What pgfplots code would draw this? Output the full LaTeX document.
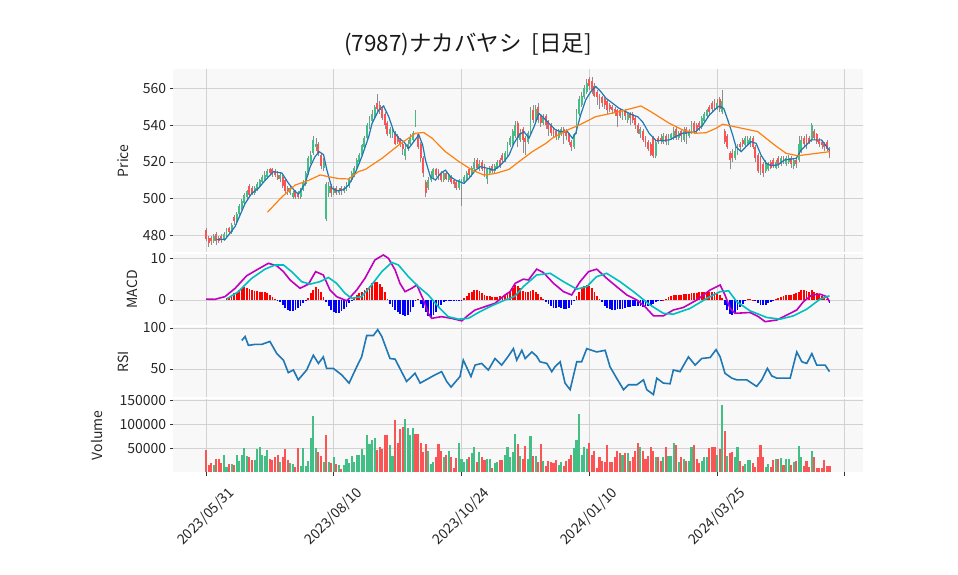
\documentclass[border=0pt]{standalone}
\usepackage{fontspec}
\setmainfont{Noto Sans CJK JP}
\usepackage{pgfplots}
\usepackage{pgfplotstable}
\pgfplotsset{compat=1.18}

\definecolor{upc}{RGB}{67,190,133}
\definecolor{dnc}{RGB}{250,85,85}
\definecolor{wick}{RGB}{140,140,140}
\definecolor{bgc}{RGB}{248,248,248}
\definecolor{gridc}{RGB}{210,210,210}
\definecolor{ma5c}{RGB}{31,119,180}
\definecolor{ma25c}{RGB}{255,127,14}
\definecolor{macdc}{RGB}{191,0,191}
\definecolor{sigc}{RGB}{0,191,191}

% daily: index, open, high, low, close, volume, volume up flag, macd histogram
\pgfplotstableread{
i o h l c v d m
0 483 484 477 478 46500 0 0
1 479 480 474 476 15000 0 0
2 479 480 475 477 19000 0 0
3 477 481 476 480 15000 1 0
4 481 482 475 477 28000 0 0
5 479 480 476 477 28000 0 0
6 480 481 476 478 19000 0 0
7 478 482 477 481 36000 1 0
8 480 484 479 483 12000 1 0.5
9 484 485 481 482 17000 0 0.8
10 482 487 481 486 17000 1 1.2
11 490 491 486 488 15000 0 1.6
12 488 493 487 492 36000 1 2.0
13 492 497 491 496 24000 1 2.4
14 495 500 494 499 36000 1 2.8
15 498 503 497 502 50000 1 3.0
16 501 505 500 504 34000 1 2.9
17 507 508 501 502 32000 0 2.6
18 506 507 502 503 26000 0 2.4
19 503 507 502 506 26000 1 2.2
20 505 509 504 508 49000 1 2.1
21 507 511 506 510 52000 1 2.0
22 509 513 508 512 37000 1 2.0
23 511 515 510 513 34000 1 1.9
24 512 516 511 515 46000 1 1.7
25 516 517 513 514 28000 0 1.3
26 516 517 512 514 26000 0 0.8
27 515 516 512 513 31000 0 0.2
28 513 515 510 511 36000 0 -0.3
29 511 514 509 513 21000 1 -0.6
30 512 513 506 507 31000 0 -1.2
31 510 511 503 504 49000 0 -1.9
32 506 507 502 504 26000 0 -2.5
33 503 507 502 506 19000 1 -2.6
34 501 504 500 503 17000 1 -2.6
35 504 505 500 501 12000 0 -2.5
36 503 504 500 501 50000 0 -2.0
37 501 506 500 505 13000 1 -1.5
38 505 510 504 509 50000 1 -0.8
39 508 515 507 514 13000 1 -0.2
40 514 523 513 522 24000 1 0.4
41 520 526 519 524 71000 1 1.6
42 525 534 524 532 117000 1 2.5
43 528 533 526 530 50000 1 3.0
44 530 531 523 525 42000 0 2.6
45 524 525 516 518 33000 0 1.8
46 517 522 515 520 21000 1 0.8
47 489 509 488 508 78000 0 -0.5
48 503 509 501 507 21000 1 -1.5
49 507 508 501 503 19000 0 -2.3
50 503 507 502 506 32000 1 -3.0
51 506 507 502 503 17000 0 -3.2
52 503 506 502 505 15000 1 -3.1
53 506 507 502 504 7000 0 -2.7
54 504 507 503 506 15000 1 -2.2
55 505 509 504 508 28000 1 -1.6
56 507 512 506 511 19000 1 -0.8
57 510 515 509 514 34000 1 -0.1
58 513 518 512 517 21000 1 0.6
59 517 522 516 521 36000 1 1.3
60 520 525 519 524 36000 1 1.6
61 524 530 523 529 49000 1 2.0
62 528 534 527 533 36000 1 2.4
63 533 541 532 540 78000 1 2.9
64 539 545 538 543 58000 1 3.4
65 542 548 541 546 67000 1 4.0
66 545 551 544 550 71000 1 4.4
67 552 557 547 549 46000 0 4.2
68 551 553 546 548 52000 0 3.8
69 549 550 543 544 49000 0 3.0
70 546 547 538 540 78000 0 1.8
71 541 542 534 535 78000 0 0.3
72 535 539 533 538 57000 1 -0.9
73 534 539 533 537 34000 1 -1.7
74 536 537 529 530 109000 0 -2.4
75 534 535 530 531 60000 0 -3.0
76 532 533 528 529 90000 0 -3.4
77 530 531 524 527 95000 0 -3.7
78 523 529 521 527 111000 1 -3.8
79 527 532 526 530 92000 1 -3.5
80 530 535 529 533 78000 1 -2.8
81 532 537 531 536 92000 1 -1.8
82 540 548 539 547 79000 0 -0.3
83 535 536 527 528 79000 0 0.2
84 530 531 520 522 60000 0 -1.0
85 522 523 512 514 42000 0 -2.0
86 509 510 501 503 58000 0 -3.0
87 506 512 505 510 44000 1 -3.8
88 510 515 509 513 17000 1 -4.0
89 512 517 511 516 22000 1 -3.6
90 516 517 512 513 32000 0 -2.8
91 515 516 510 512 58000 0 -2.0
92 514 515 509 510 44000 0 -1.3
93 510 515 509 514 32000 1 -0.6
94 514 515 510 511 37000 0 -0.3
95 510 514 509 513 44000 1 -0.2
96 512 513 508 509 32000 0 -0.3
97 510 511 506 508 8000 0 -0.2
98 509 510 505 506 29000 0 -0.3
99 506 511 505 510 60000 1 -0.2
100 507 511 496 510 28000 1 -0.2
101 509 513 508 512 22000 1 0.4
102 511 515 510 514 28000 1 1.0
103 516 517 512 513 32000 0 1.6
104 513 518 512 517 40000 1 2.0
105 516 522 515 520 52000 1 2.3
106 521 522 516 517 21000 0 2.4
107 516 521 515 519 42000 1 2.2
108 520 521 515 516 31000 0 1.7
109 518 519 512 513 26000 0 1.3
110 511 517 508 516 28000 1 1.0
111 514 518 513 517 28000 1 0.9
112 518 519 514 515 10000 0 0.8
113 515 519 514 518 19000 1 0.8
114 517 521 516 520 21000 1 0.8
115 521 522 517 518 26000 0 0.9
116 524 525 520 521 26000 0 1.0
117 521 526 520 525 36000 1 1.1
118 524 531 523 530 52000 1 1.4
119 529 534 528 533 31000 1 2.0
120 530 538 529 537 42000 1 2.8
121 534 542 533 540 80000 1 3.6
122 541 542 528 533 59000 0 3.3
123 532 538 531 536 34000 1 2.8
124 538 539 525 532 28000 0 2.2
125 533 534 524 531 55000 0 2.0
126 531 537 530 536 28000 1 2.0
127 536 550 535 548 76000 1 2.2
128 548 551 541 543 33000 0 2.3
129 543 551 542 549 34000 1 2.0
130 550 552 541 543 21000 0 1.5
131 545 546 539 541 59000 0 0.8
132 541 546 540 544 24000 1 0.2
133 545 546 538 540 13000 0 -0.4
134 542 543 534 538 24000 0 -1.0
135 540 541 534 536 21000 0 -1.5
136 538 539 533 535 19000 0 -1.9
137 537 538 532 534 25000 0 -2.0
138 533 538 532 537 15000 1 -1.8
139 535 539 534 538 21000 1 -1.9
140 538 539 530 536 13000 0 -2.1
141 537 538 532 534 24000 0 -2.1
142 535 536 529 531 28000 0 -1.9
143 531 532 526 528 37000 0 -1.2
144 528 536 527 535 50000 1 -0.2
145 536 549 535 547 67000 1 1.0
146 546 556 545 554 121000 1 2.0
147 551 558 550 556 36000 1 2.8
148 555 562 554 560 52000 1 3.3
149 558 565 557 563 49000 1 3.6
150 565 566 559 561 62000 0 3.4
151 564 566 557 559 37000 0 2.8
152 561 563 555 556 44000 0 2.0
153 558 559 551 555 10000 0 1.0
154 556 557 549 553 31000 0 0.2
155 555 556 550 552 24000 0 -0.6
156 554 555 549 551 21000 0 -1.4
157 553 554 546 548 57000 0 -1.9
158 551 552 547 549 21000 0 -2.2
159 550 551 546 548 21000 0 -2.3
160 549 550 545 547 31000 0 -2.3
161 548 549 539 545 44000 0 -2.2
162 548 549 544 545 40000 0 -2.2
163 544 548 543 547 37000 1 -2.1
164 548 549 543 545 40000 0 -2.0
165 543 547 541 546 40000 1 -1.8
166 546 547 540 544 24000 0 -1.6
167 546 547 541 543 32000 0 -1.5
168 544 545 538 540 44000 0 -1.4
169 540 541 535 536 62000 0 -1.5
170 535 539 533 538 52000 1 -1.5
171 537 538 531 532 44000 0 -1.6
172 533 534 528 530 28000 0 -1.5
173 531 532 526 527 34000 0 -1.4
174 530 531 523 524 52000 0 -1.2
175 533 534 522 523 44000 0 -0.9
176 523 532 522 531 31000 1 -0.6
177 533 534 530 531 31000 0 -0.3
178 533 535 530 532 24000 0 -0.2
179 531 536 530 534 31000 1 0.1
180 534 535 529 531 52000 0 0.3
181 530 535 529 533 34000 1 0.6
182 533 536 532 535 34000 1 0.9
183 533 539 532 537 60000 1 1.1
184 538 539 532 533 57000 0 1.2
185 533 537 532 536 21000 1 1.3
186 537 538 531 534 31000 0 1.3
187 532 539 531 537 28000 1 1.4
188 538 539 530 535 24000 0 1.4
189 534 538 533 537 24000 1 1.5
190 536 542 535 540 52000 1 1.6
191 541 542 535 537 57000 0 1.6
192 540 541 536 538 28000 0 1.7
193 541 542 537 539 19000 0 1.8
194 539 545 538 544 24000 1 1.9
195 542 547 541 546 32000 1 2.0
196 545 549 544 548 32000 1 2.0
197 550 551 545 547 50000 0 2.0
198 552 553 547 549 52000 0 2.0
199 553 554 548 550 52000 0 1.8
200 549 554 548 552 37000 1 1.6
201 554 555 547 549 49000 0 1.2
202 547 559 546 553 140000 1 0.4
203 537 538 530 531 86000 0 -1.2
204 534 535 527 528 34000 1 -2.4
205 525 526 516 521 40000 0 -3.4
206 525 527 520 522 42000 0 -3.6
207 522 528 521 526 32000 1 -3.2
208 525 530 524 529 52000 1 -2.4
209 530 531 526 528 24000 0 -1.6
210 532 533 528 530 13000 0 -0.9
211 529 534 528 533 17000 1 -0.3
212 530 534 529 532 25000 1 0.2
213 530 534 528 533 25000 1 0.3
214 533 534 527 528 19000 0 0.1
215 528 529 520 522 12000 0 -0.3
216 524 525 514 515 32000 0 -0.8
217 522 523 513 516 57000 0 -1.2
218 519 520 512 514 31000 0 -1.3
219 515 521 514 520 12000 1 -1.1
220 516 520 515 519 17000 1 -0.7
221 520 521 516 517 12000 0 -0.4
222 521 522 517 518 25000 0 -0.1
223 517 521 516 520 27000 1 0.2
224 522 523 517 519 27000 0 0.5
225 519 523 518 522 29000 1 0.8
226 522 523 519 520 15000 0 1.0
227 519 523 518 522 27000 1 1.1
228 520 524 519 522 27000 1 1.2
229 522 523 517 519 15000 0 1.3
230 518 522 516 521 21000 1 1.4
231 521 522 517 519 24000 0 1.6
232 521 534 520 530 55000 1 2.0
233 526 534 525 532 31000 1 2.3
234 533 534 528 530 13000 0 2.3
235 534 535 527 530 24000 0 2.2
236 533 534 530 531 12000 0 2.0
237 532 541 531 540 44000 1 2.4
238 537 538 532 533 31000 0 2.0
239 535 536 530 531 8000 0 1.6
240 532 533 528 530 8000 0 1.3
241 531 532 527 529 8000 0 0.9
242 530 531 526 528 26000 0 0.6
243 531 532 526 527 13000 0 0.3
244 527 528 522 523 13000 0 -0.8
}\ohlc

\pgfplotstableread{
x y
4.2 478
7.5 478
11.4 485
15.3 497.5
17.9 503
20.5 505.7
23.1 510
26.4 514.8
29.7 514
32.3 508.4
34.9 504
36.2 502.6
38.8 508.4
40.8 517.5
42.7 523
44.3 525.6
46 524
47.3 515.7
49.3 505.7
51.2 504.4
53.9 505
55.8 507.5
58.4 514
61 523
63.7 533.8
65 541
67.6 548.2
69.5 550.4
71.5 544.6
73.5 536.5
75.4 532.9
77.4 531
79.3 527.4
81.3 531
83.3 534.7
84.8 529.2
85.9 521
87.8 512
89.8 510.2
91.8 513.8
93.7 515.6
95.7 512
97.6 510.2
100.9 508.4
102.9 511.1
105.5 515.6
107.4 517.5
110.1 516.6
112.7 515.6
114.6 517.5
116.6 520.2
118.6 523.8
120.5 530.1
122.5 534.7
124.4 536.5
126.4 532.9
128.4 539.2
130.3 546.4
132.3 543.7
134.2 541
136.8 537.4
138.8 536.5
141.4 536.5
143.4 532.9
144.7 535.6
146.6 545.5
148.6 553.7
150.6 558.2
152.5 561
154.5 558.2
156.5 554.6
159.1 551.9
161.7 549.1
164.3 547.3
166.9 545.5
168.9 544.6
170.8 541.9
173.4 535.6
176.1 531.6
178.7 531.6
181.3 532
183.9 533.8
186.5 535.6
189.1 535.9
191.7 536.5
194.4 540.1
197 545.5
199.6 549.1
200.9 550.4
202.6 549.1
204.2 542.8
206.1 534.7
207.4 528.3
209.4 525.6
211.3 528.3
213.3 531
215.3 530.1
217.2 523.8
219.2 519.3
221.2 518
223.8 518.4
226.4 521.1
229 521.6
231 522
232.9 526.5
234.9 529.2
236.8 532
238.8 532
240.8 532
242.7 528.7
244 526.2
}\mafive

\pgfplotstableread{
x y
24 492.7
29.7 501
34.9 507.5
40.1 510
44.7 513
48 512
51.9 511
55.8 510.8
59.7 514.8
62.4 516
68.9 522
75.4 529.2
82 535.6
85.2 536
88.5 532.9
93.7 525.6
99 520.2
104.2 515.6
108.8 512.9
113.3 513.8
118.6 516
122.5 520.2
127.7 525.6
133 530.1
135.5 532.9
142 537.7
146 540
152.5 544.6
161.7 547.3
170.2 550.4
174.1 547.3
181.3 541
186.5 537.4
191.7 535.6
195.7 535.9
199.6 538.3
202.2 540.5
215.9 536.5
222.5 529.2
227 524.7
231.6 523.4
244 525.6
}\matwentyfive

\pgfplotstableread{
x y
0 0.2
3.5 0.16
7.4 0.8
11.4 2.8
15.9 5.8
19.8 7.2
24.4 8.8
27.7 8.2
30.3 6.8
32.9 4.8
36.8 2.8
40.1 3.8
42.9 6.8
45.9 6.0
48.5 2.4
51.1 0.8
55.1 -0.2
59 2.4
62.2 5.2
66.1 9.6
69.4 10.8
71.4 10
74 7.2
75.9 4
77.9 2
80.5 2.8
82.5 3.6
85.1 0
87 -3.2
88.3 -4.4
92.2 -4
96.1 -4.4
100.1 -5
102.7 -3.6
105.3 -2.4
109.2 -1.6
113.1 -0.8
117 1.2
119 2
121 4
124.2 5
126.2 4.8
129.4 7.4
132 6.6
136 4
139.9 2
143.1 1.2
146.4 4.4
149.7 6.8
152.9 7.4
156.8 5.2
160.7 3.2
164.7 1.2
168.6 0
171.8 -1.6
175.1 -3.8
179 -3.8
182.9 -2.4
186.8 -1.8
192.1 0
197.3 2.4
201.2 3.6
203.1 1.2
205.1 -2
207.1 -3.2
212.9 -3
216.2 -4
218.8 -5.2
223.4 -4.8
227.3 -3.6
231.2 -2.4
233.8 -0.4
237.1 1.2
240.3 1.4
242.9 0.8
244 -0.4
}\macd

\pgfplotstableread{
x y
8.1 0.24
12.7 2
17.9 5.2
23.1 7.4
27 8.4
30.3 8.4
33.5 6.8
37.4 4.4
40.7 3.8
44.6 4.4
47.9 5.4
51.1 4
54.4 1.6
57 0.4
60.9 0.8
64.8 3.6
68.8 6.8
72.7 9
75.3 8.4
79.2 5.6
83.1 3.2
87 1.2
90.9 -1.6
94.8 -4
98.8 -4.6
102.7 -4.4
106.6 -3
111.8 -1.4
117 0
119 0.4
121 1.0
124.2 3.2
129.4 6
134.7 6.4
139.9 4.4
145.1 2.6
149 3.2
152.9 5.6
156.8 6.4
162 4.4
167.3 2
173.8 -1.2
179 -3.2
182.9 -3.4
189.5 -2
196 0.4
201.2 2
204.5 2.2
207.7 -0.4
212.9 -2.6
219.5 -4.2
224.7 -4.6
229.9 -3.8
235.1 -2.2
240.3 0.2
244 1
}\signal

\pgfplotstableread{
x y
14 84.8
15.3 89.6
16.6 78.8
19.2 80
21.8 80
25 83.6
27.7 68.8
30.3 60.8
32.2 45.6
34.2 48.8
36.1 36.8
39.4 48.8
42 66.8
44 56.8
45.9 64.8
47.2 50.8
49.8 50.8
53.1 42.8
56 32.8
59 52.8
60.9 64.8
62.9 90.8
65.5 90.8
67.2 98
68.8 89.6
72 62.8
74 62
78.5 34.8
81.8 44.8
83.8 32.8
89.6 42.8
92.2 46.8
94.2 34.8
95.9 28
99.4 40.8
100.7 60.8
103.7 40.8
105.3 54.8
107.9 56.8
110.5 48.8
113.1 62.8
115.7 54.8
118.3 65.6
120.3 74.8
121.6 60.8
123.6 72.8
124.9 62.8
127.5 70.8
129.4 65.6
130.7 58.8
133.4 56.8
135.3 46.8
136.6 52.8
138.6 58.8
140.5 32.8
142.5 24.8
145.1 58.8
147 58.8
149 74.8
152.9 70.8
156.2 72.8
158.1 52.8
160.7 38.8
163.4 24.8
165.3 30.8
168.6 30.8
171.2 36.8
172.5 24.8
175.1 18.8
176.4 38.8
179 32.8
181.6 32
182.9 48.8
185.5 46.8
188.8 64.8
191.4 54.8
194 62.8
197.3 64
199.6 73.6
201.2 64.8
203.1 44.8
205.8 38.8
207.7 36.8
211.6 36.8
215.5 28.8
217.5 36.8
219.7 50.8
221.4 41.6
223.4 38.8
228.6 38.8
231.2 70.8
233.2 58.8
235.1 56.8
237.1 68.8
239 54.8
242.3 54.8
244 46.8
}\rsi

\pgfplotsset{
  panel/.style={
    scale only axis, width=689.4pt, anchor=north west,
    xmin=-12.8, xmax=257, xtick={0,50,...,250},
    axis background/.style={fill=bgc},
    axis line style={draw=none},
    grid=major, grid style={gridc, line width=0.9pt},
    tick align=outside, major tick length=3.5pt,
    ytick pos=left, xtick pos=bottom,
    tick style={black!80, line width=0.8pt},
    ticklabel style={font=\fontsize{14}{16}\selectfont, text=black!85},
    /pgf/number format/assume math mode=true,
    ylabel style={font=\fontsize{14}{16}\selectfont, text=black!85, anchor=center},
  },
  upper/.style={panel, xmajorticks=false, xticklabels={}},
}

\begin{document}
\begin{tikzpicture}
\useasboundingbox (0pt,0pt) rectangle (958pt,-575pt);
\node[font=\fontsize{22.5}{25}\selectfont, text=black!90] at (468pt,-44pt) {(7987)ナカバヤシ\ \ [日足]};

% price
\begin{axis}[upper, at={(173.3pt,-69.3pt)}, height=183pt,
  ymin=471, ymax=570.3, ytick={480,500,...,560},
  ylabel={Price}, ylabel style={at={(axis description cs:-0.073,0.5)}}]
\addplot[draw=none, mark=none, error bars/.cd, y dir=plus, y explicit,
  error mark=none, error bar style={draw=wick, line width=0.6pt}]
  table[x=i, y=l, y error expr=\thisrow{h}-\thisrow{l}] {\ohlc};
\addplot[draw=none, mark=none, restrict x to domain=-20:300,
  error bars/.cd, y dir=plus, y explicit, error mark=none,
  error bar style={draw=upc, line width=1.9pt}]
  table[x expr={\thisrow{c}>\thisrow{o} ? \thisrow{i} : -100}, y=o,
        y error expr=\thisrow{c}-\thisrow{o}] {\ohlc};
\addplot[draw=none, mark=none, restrict x to domain=-20:300,
  error bars/.cd, y dir=plus, y explicit, error mark=none,
  error bar style={draw=dnc, line width=1.9pt}]
  table[x expr={\thisrow{c}<\thisrow{o} ? \thisrow{i} : -100}, y=c,
        y error expr=\thisrow{o}-\thisrow{c}] {\ohlc};
\addplot[ma5c, line width=1.2pt, mark=none] table {\mafive};
\addplot[ma25c, line width=1.2pt, mark=none] table {\matwentyfive};
\end{axis}

% macd
\begin{axis}[upper, at={(173.3pt,-253.5pt)}, height=71.5pt,
  ymin=-6, ymax=11.15, ytick={0,10},
  ylabel={MACD}, ylabel style={at={(axis description cs:-0.06,0.5)}}]
\addplot[ycomb, red, line width=1.8pt, mark=none, restrict x to domain=-20:300]
  table[x expr={\thisrow{m}>0 ? \thisrow{i} : -100}, y=m] {\ohlc};
\addplot[ycomb, blue, line width=1.8pt, mark=none, restrict x to domain=-20:300]
  table[x expr={\thisrow{m}<0 ? \thisrow{i} : -100}, y=m] {\ohlc};
\addplot[macdc, line width=1.6pt, mark=none] table {\macd};
\addplot[sigc, line width=1.6pt, mark=none] table {\signal};
\end{axis}

% rsi
\begin{axis}[upper, at={(173.3pt,-326.5pt)}, height=70.8pt,
  ymin=15.5, ymax=101.8, ytick={50,100},
  ylabel={RSI}, ylabel style={at={(axis description cs:-0.073,0.5)}}]
\addplot[ma5c, line width=1.6pt, mark=none] table {\rsi};
\end{axis}

% volume
\begin{axis}[panel, at={(173.3pt,-398.7pt)}, height=73.6pt,
  ymin=0, ymax=153300, ytick={50000,100000,150000},
  scaled y ticks=false,
  yticklabel style={/pgf/number format/.cd, fixed, 1000 sep={}},
  xticklabels={2023/05/31,2023/08/10,2023/10/24,2024/01/10,2024/03/25,{}},
  xticklabel style={yshift=-41pt, rotate=45, anchor=center},
  ylabel={Volume}, ylabel style={at={(axis description cs:-0.111,0.5)}}]
\addplot[ycomb, upc, line width=2.1pt, mark=none, restrict x to domain=-20:300]
  table[x expr={\thisrow{d}==1 ? \thisrow{i} : -100}, y=v] {\ohlc};
\addplot[ycomb, dnc, line width=2.1pt, mark=none, restrict x to domain=-20:300]
  table[x expr={\thisrow{d}==0 ? \thisrow{i} : -100}, y=v] {\ohlc};
\end{axis}
\end{tikzpicture}
\end{document}
